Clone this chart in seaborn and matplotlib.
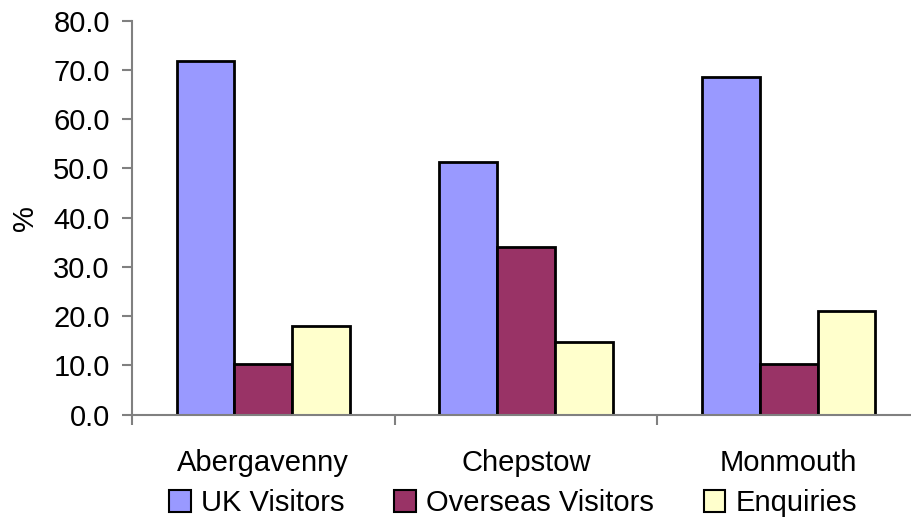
import matplotlib
matplotlib.use("Agg")
import matplotlib.pyplot as plt
import seaborn as sns
import pandas as pd
from matplotlib.patches import Patch
from matplotlib.ticker import FixedLocator

towns = ["Abergavenny", "Chepstow", "Monmouth"]
series = ["UK Visitors", "Overseas Visitors", "Enquiries"]
uk_visitors = [71.8, 51.2, 68.6]
overseas_visitors = [10.2, 34.1, 10.2]
enquiries = [17.9, 14.7, 21.1]
colors = ["#9999FF", "#993366", "#FFFFCC"]
y_ticks = [0, 10, 20, 30, 40, 50, 60, 70, 80]

df = pd.DataFrame({
    "town": towns * 3,
    "series": [s for s in series for _ in towns],
    "value": uk_visitors + overseas_visitors + enquiries,
})

sns.set_theme(style="white")
plt.rcParams["font.family"] = ["Liberation Sans", "DejaVu Sans"]
plt.rcParams["text.color"] = "black"
plt.rcParams["axes.labelcolor"] = "black"
plt.rcParams["xtick.color"] = "black"
plt.rcParams["ytick.color"] = "black"

fs = 21

fig = plt.figure(figsize=(9.11, 5.20), dpi=100)
W, H = 911, 520
x0, x1 = 132, 920
y_top, y_bot = 20.7, 414.5
ax = fig.add_axes([x0 / W, 1 - y_bot / H, (x1 - x0) / W, (y_bot - y_top) / H])

sns.barplot(data=df, x="town", y="value", hue="series", order=towns,
            hue_order=series, palette=colors, width=0.66, ax=ax,
            edgecolor="black", linewidth=2, saturation=1, legend=False)

ax.set_ylim(0, 80)
ax.set_xlim(-0.5, 2.5)
ax.set_yticks(y_ticks)
ax.set_yticklabels([f"{v:.1f}" for v in y_ticks])
ax.set_xlabel("")
ax.set_ylabel("%", fontsize=fs, labelpad=10)

for side in ["top", "right"]:
    ax.spines[side].set_visible(False)
for side in ["left", "bottom"]:
    ax.spines[side].set_color("#808080")
    ax.spines[side].set_linewidth(1.5)

ax.tick_params(axis="y", which="major", direction="out", length=7, width=1.5,
               color="#808080", labelcolor="black", labelsize=fs, pad=9,
               left=True)
ax.tick_params(axis="x", which="major", length=0, labelsize=fs,
               labelcolor="black", pad=25)
ax.xaxis.set_minor_locator(FixedLocator([-0.5, 0.5, 1.5, 2.5]))
ax.tick_params(axis="x", which="minor", direction="out", length=7, width=1.5,
               color="#808080", bottom=True)

handles = [Patch(facecolor=c, edgecolor="black", linewidth=1.5) for c in colors]
fig.legend(handles, series, loc="center", bbox_to_anchor=(513 / W, 1 - 503 / H),
           ncol=3, frameon=False, fontsize=fs, handlelength=0.75,
           handleheight=0.75, handletextpad=0.35, columnspacing=1.7,
           borderpad=0)

fig.savefig("out.png", dpi=100)
